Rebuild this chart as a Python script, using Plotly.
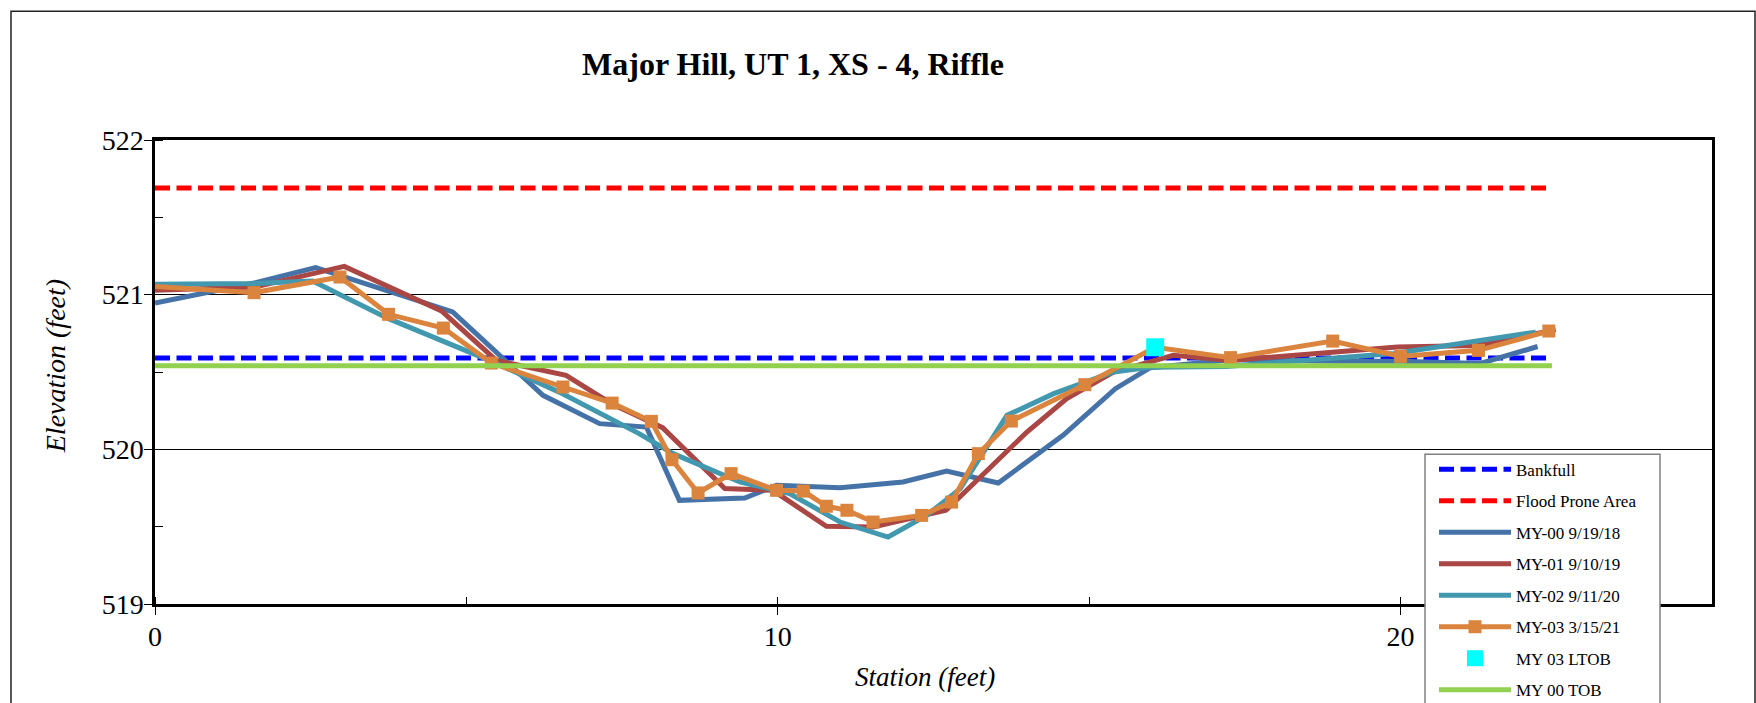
import plotly.graph_objects as go

# ---------------- data ----------------
station_my00 = [0.0, 1.59, 2.58, 4.78, 6.23, 7.14, 7.89, 8.42, 9.47, 9.98, 11.0, 12.01, 12.71,
                13.54, 14.58, 15.42, 15.98, 17.3, 19.0, 20.0, 21.28, 22.2]
elev_my00 = [520.946, 521.075, 521.175, 520.888, 520.349, 520.166, 520.144, 519.670, 519.685,
             519.767, 519.752, 519.789, 519.860, 519.782, 520.091, 520.392, 520.528, 520.58,
             520.57, 520.57, 520.555, 520.665]

station_my01 = [0.0, 1.6, 3.04, 4.6, 5.48, 6.60, 7.33, 8.15, 9.15, 9.92, 10.78, 11.53, 12.70,
                14.0, 14.64, 15.39, 16.35, 17.27, 19.95, 21.23, 22.49]
elev_my01 = [521.028, 521.049, 521.183, 520.895, 520.575, 520.478, 520.295, 520.14, 519.746,
             519.735, 519.502, 519.498, 519.606, 520.112, 520.328, 520.50, 520.608, 520.575,
             520.661, 520.672, 520.774]

station_my02 = [0.0, 1.6, 2.53, 3.75, 5.37, 6.49, 7.78, 8.32, 9.39, 10.19, 11.0, 11.77, 12.39,
                12.93, 13.68, 14.43, 15.39, 15.98, 17.2, 19.9, 22.17]
elev_my02 = [521.068, 521.072, 521.088, 520.845, 520.575, 520.37, 520.10, 519.972, 519.789,
             519.714, 519.53, 519.433, 519.573, 519.746, 520.22, 520.36, 520.50, 520.53,
             520.536, 520.62, 520.758]

station_my03 = [-0.3, 1.59, 2.97, 3.75, 4.63, 5.40, 6.55, 7.34, 7.97, 8.30, 8.72, 9.25, 9.98,
                10.41, 10.78, 11.11, 11.53, 12.31, 12.79, 13.22, 13.75, 14.93, 16.06, 17.27,
                18.91, 20.0, 21.25, 22.38]
elev_my03 = [521.06, 521.013, 521.114, 520.873, 520.784, 520.558, 520.403, 520.299, 520.181,
             519.933, 519.718, 519.843, 519.735, 519.730, 519.632, 519.606, 519.530, 519.573,
             519.659, 519.972, 520.183, 520.418, 520.66, 520.593, 520.700, 520.601, 520.640,
             520.765]

ltob_station = [16.06]
ltob_elev = [520.66]

line_station = [0.0, 22.43]
bankfull_elev = [520.59, 520.59]
flood_elev = [521.69, 521.69]
tob_elev = [520.54, 520.54]

x_ticks = [0, 10, 20]
y_ticks = [519, 520, 521, 522]

FONT = "Liberation Serif, Times New Roman, serif"

fig = go.Figure()
fig.add_trace(go.Scatter(x=line_station, y=bankfull_elev, name="Bankfull", mode="lines",
                         line=dict(color="#0000FF", width=5, dash="15px,6.5px")))
fig.add_trace(go.Scatter(x=line_station, y=flood_elev, name="Flood Prone Area", mode="lines",
                         line=dict(color="#FF0000", width=5, dash="15px,6.5px")))
fig.add_trace(go.Scatter(x=station_my00, y=elev_my00, name="MY-00 9/19/18", mode="lines",
                         line=dict(color="#4572A7", width=5)))
fig.add_trace(go.Scatter(x=station_my01, y=elev_my01, name="MY-01 9/10/19", mode="lines",
                         line=dict(color="#AA4643", width=5)))
fig.add_trace(go.Scatter(x=station_my02, y=elev_my02, name="MY-02 9/11/20", mode="lines",
                         line=dict(color="#4198AF", width=5)))
fig.add_trace(go.Scatter(x=station_my03, y=elev_my03, name="MY-03 3/15/21", mode="lines+markers",
                         line=dict(color="#DB843D", width=5),
                         marker=dict(symbol="square", size=13, color="#DB843D")))
fig.add_trace(go.Scatter(x=ltob_station, y=ltob_elev, name="MY 03 LTOB", mode="markers",
                         marker=dict(symbol="square", size=18, color="#00FFFF")))
fig.add_trace(go.Scatter(x=line_station, y=tob_elev, name="MY 00 TOB", mode="lines",
                         line=dict(color="#92D050", width=5)))

for i, tr in enumerate(fig.data):
    tr.legendgroup = "g%d" % i

L, R, T, B = 155, 1712, 139.5, 604
W, H = 1756, 703
pw, ph = R - L, B - T

def px(xp):
    return (xp - L) / pw

def py(yp):
    return (B - yp) / ph

fig.update_layout(
    width=W, height=H,
    margin=dict(l=L, r=W - R, t=T, b=H - B, autoexpand=False),
    paper_bgcolor="white", plot_bgcolor="white",
    font=dict(family=FONT, color="black"),
    title=dict(text="<b>Major Hill, UT 1, XS - 4, Riffle</b>", font=dict(size=32, family=FONT),
               x=793 / W, xanchor="center", xref="container",
               y=1 - 64 / H, yanchor="middle"),
    showlegend=True,
    hovermode=False,
    legend=dict(x=px(1434), y=py(451.5), xanchor="left", yanchor="top",
                bgcolor="rgba(0,0,0,0)", borderwidth=0,
                font=dict(size=17, family=FONT), tracegroupgap=6.4, itemwidth=72,
                traceorder="grouped"),
    xaxis=dict(range=[0, 25], tickvals=x_ticks, ticktext=[str(v) for v in x_ticks],
               ticks="outside", ticklen=8, tickcolor="black", tickwidth=1,
               tickfont=dict(size=28, family=FONT), ticklabelstandoff=-2,
               showgrid=False, zeroline=False, showline=True, mirror=True,
               linecolor="black", linewidth=2.5,
               minor=dict(dtick=5, ticks="inside", ticklen=7, tickcolor="black", tickwidth=1,
                          showgrid=False)),
    yaxis=dict(range=[519, 522], tickvals=y_ticks, ticktext=[str(v) for v in y_ticks],
               ticks="outside", ticklen=8, tickcolor="black", tickwidth=1,
               tickfont=dict(size=28, family=FONT), ticklabelstandoff=-5,
               showgrid=True, gridcolor="black", gridwidth=1, zeroline=False,
               showline=True, mirror=True, linecolor="black", linewidth=2.5,
               minor=dict(dtick=0.5, ticks="inside", ticklen=8, tickcolor="black", tickwidth=1,
                          showgrid=False)),
    annotations=[
        dict(text="<i>Station (feet)</i>", xref="paper", yref="paper", x=px(925), y=py(677),
             xanchor="center", yanchor="middle", showarrow=False,
             font=dict(size=27, family=FONT)),
        dict(text="<i>Elevation (feet)</i>", xref="paper", yref="paper", x=px(55), y=py(366),
             xanchor="center", yanchor="middle", showarrow=False, textangle=-90,
             font=dict(size=28, family=FONT)),
    ],
    shapes=[
        dict(type="rect", xref="paper", yref="paper", x0=px(11), x1=px(1755),
             y0=py(720), y1=py(10.7), line=dict(color="#222222", width=1.5), layer="below"),
        dict(type="rect", xref="paper", yref="paper", x0=px(1425), x1=px(1660),
             y0=py(720), y1=py(454), line=dict(color="#808080", width=1.5),
             fillcolor="white", layer="above"),
    ],
)

fig.write_html("out.html", config={"displayModeBar": False},
               post_script="document.body.style.margin='0px';")
